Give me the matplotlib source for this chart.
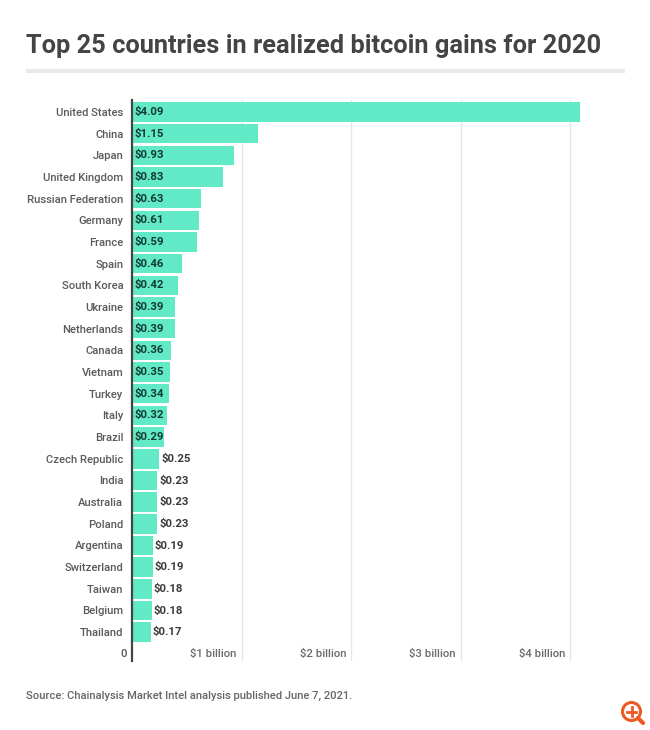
import matplotlib
matplotlib.use('Agg')
import matplotlib.pyplot as plt
from matplotlib.patches import Circle

countries = ['United States', 'China', 'Japan', 'United Kingdom', 'Russian Federation',
             'Germany', 'France', 'Spain', 'South Korea', 'Ukraine', 'Netherlands',
             'Canada', 'Vietnam', 'Turkey', 'Italy', 'Brazil', 'Czech Republic', 'India',
             'Australia', 'Poland', 'Argentina', 'Switzerland', 'Taiwan', 'Belgium', 'Thailand']
gains = [4.09, 1.15, 0.93, 0.83, 0.63, 0.61, 0.59, 0.46, 0.42, 0.39, 0.39, 0.36, 0.35,
         0.34, 0.32, 0.29, 0.25, 0.23, 0.23, 0.23, 0.19, 0.19, 0.18, 0.18, 0.17]
grid_values = [1, 2, 3, 4]
grid_labels = ['$1 billion', '$2 billion', '$3 billion', '$4 billion']

W, H = 650, 730
plt.rcParams['font.family'] = ['Roboto', 'DejaVu Sans']

fig = plt.figure(figsize=(W / 100, H / 100), dpi=100, facecolor='white')

# overlay in pixel coordinates for the header, rule and icon
bg = fig.add_axes([0, 0, 1, 1])
bg.set_xlim(0, W)
bg.set_ylim(H, 0)
bg.axis('off')
bg.text(26, 46, 'Top 25 countries in realized bitcoin gains for 2020', fontsize=18.25,
        fontweight='bold', color='#444444', va='center', ha='left')
bg.plot([26, 625], [71, 71], color='#e9e9e9', lw=3, solid_capstyle='butt')
bg.text(26, 695.5, 'Source: Chainalysis Market Intel analysis published June 7, 2021.',
        fontsize=8.1, fontweight='medium', color='#666666', va='center', ha='left')

# magnifier icon
orange = '#ee5a24'
bg.add_patch(Circle((631.5, 711.5), 9, fill=False, ec=orange, lw=2.2))
bg.plot([638, 643], [718, 723], color=orange, lw=3, solid_capstyle='round')
bg.plot([627, 636], [711.5, 711.5], color=orange, lw=2)
bg.plot([631.5, 631.5], [707, 716], color=orange, lw=2)

ax = fig.add_axes([132 / W, 1 - 661 / H, 488 / W, 561 / H])
ax.patch.set_alpha(0)
rows = list(range(len(countries)))
ax.barh(rows, gains, height=0.9, color='#62e9c6', zorder=2)
ax.set_xlim(0, 488 / 109.5)
ax.set_ylim(25.33, -0.55)

ax.set_yticks(rows)
ax.set_yticklabels(countries, fontsize=8.15, fontweight='medium', color='#5a5a5a')
ax.tick_params(axis='y', length=0, pad=6.2)
ax.set_xticks(grid_values)
ax.set_xticklabels([])
ax.tick_params(axis='x', length=0)
ax.grid(axis='x', color='#e6e6e6', lw=1, zorder=0)
ax.set_axisbelow(True)

for side in ['top', 'right', 'bottom']:
    ax.spines[side].set_visible(False)
ax.spines['left'].set_color('#444444')
ax.spines['left'].set_linewidth(1.6)
ax.spines['left'].set_zorder(3)

# value labels sit inside the longer bars and just past the short ones
for row, val in zip(rows, gains):
    if val >= 0.29:
        ax.annotate('$%.2f' % val, (0, row), xytext=(1.6, 0), textcoords='offset points',
                    fontsize=8.2, fontweight='bold', color='#123c33', va='center', ha='left', zorder=4)
    else:
        ax.annotate('$%.2f' % val, (val, row), xytext=(1.5, 0), textcoords='offset points',
                    fontsize=8.2, fontweight='bold', color='#3a3a3a', va='center', ha='left', zorder=4)

# bottom row of axis labels, placed left of each gridline
ax.annotate('0', (0, 25), xytext=(-3.6, 0), textcoords='offset points', fontsize=8.2,
            fontweight='medium', color='#5a5a5a', va='center', ha='right')
for val, label in zip(grid_values, grid_labels):
    ax.annotate(label, (val, 25), xytext=(-3.6, 0), textcoords='offset points', fontsize=8.2,
                fontweight='medium', color='#6a6a6a', va='center', ha='right')

fig.savefig('out.png', dpi=100)
